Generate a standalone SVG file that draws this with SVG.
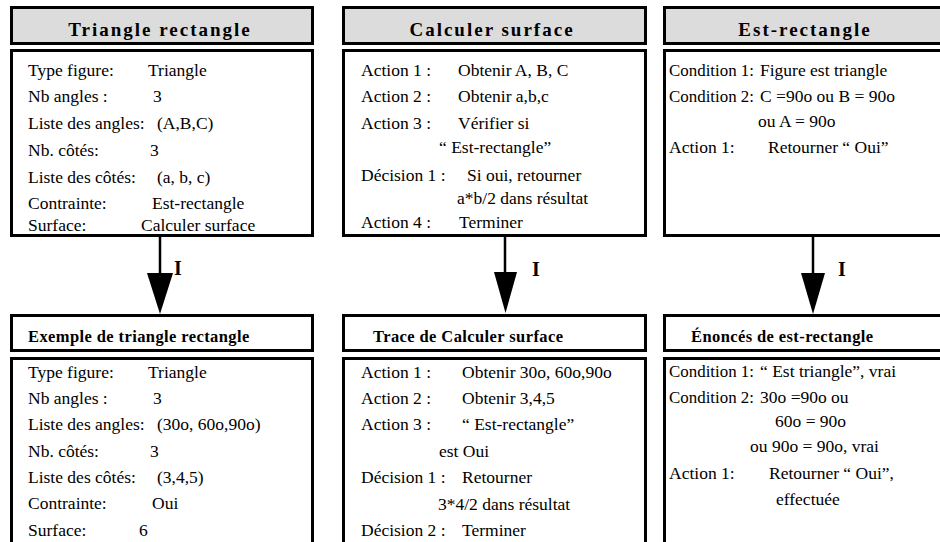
<svg xmlns="http://www.w3.org/2000/svg" width="940" height="542" viewBox="0 0 940 542" font-family="'Liberation Serif', 'DejaVu Serif', Times, serif">
<style>
.bg{fill:#ffffff}
.tbox{fill:#dcdcdc;stroke:#000;stroke-width:3}
.box{fill:#ffffff;stroke:#000;stroke-width:3}
.t{font-size:17.5px;fill:#000}
.h1{font-size:19px;font-weight:bold;letter-spacing:2px;fill:#000;text-anchor:middle}
.h2{font-size:16.5px;font-weight:bold;letter-spacing:0.4px;fill:#000}
.lbl{font-size:20px;font-weight:bold;fill:#000}
.ln{stroke:#000;stroke-width:2.5;fill:none}
.ah{fill:#000}
</style>
<rect class="bg" x="0" y="0" width="940" height="542"/>

<g id="triangle-rectangle">
<rect class="tbox" x="11.5" y="7.5" width="301" height="36"/>
<text class="h1" x="160" y="36">Triangle rectangle</text>
<rect class="box" x="11.5" y="50.5" width="301" height="185"/>
<text class="t" x="28" y="76">Type figure:</text><text class="t" x="148" y="76">Triangle</text>
<text class="t" x="28" y="102">Nb angles :</text><text class="t" x="153" y="102">3</text>
<text class="t" x="28" y="129">Liste des angles:</text><text class="t" x="157" y="129">(A,B,C)</text>
<text class="t" x="28" y="156">Nb. côtés:</text><text class="t" x="150" y="156">3</text>
<text class="t" x="28" y="183">Liste des côtés:</text><text class="t" x="157" y="183">(a, b, c)</text>
<text class="t" x="28" y="209">Contrainte:</text><text class="t" x="152" y="209">Est-rectangle</text>
<text class="t" x="28" y="231">Surface:</text><text class="t" x="141" y="231">Calculer surface</text>
</g>

<g id="calculer-surface">
<rect class="tbox" x="343.5" y="7.5" width="302" height="36"/>
<text class="h1" x="492" y="36">Calculer surface</text>
<rect class="box" x="343.5" y="50.5" width="302" height="185"/>
<text class="t" x="361" y="76">Action 1 :</text><text class="t" x="458" y="76">Obtenir A, B, C</text>
<text class="t" x="361" y="102">Action 2 :</text><text class="t" x="458" y="102">Obtenir a,b,c</text>
<text class="t" x="361" y="129">Action 3 :</text><text class="t" x="458" y="129">Vérifier si</text>
<text class="t" x="439" y="153">“ Est-rectangle”</text>
<text class="t" x="361" y="181">Décision 1 :</text><text class="t" x="467" y="181">Si oui, retourner</text>
<text class="t" x="457" y="204">a*b/2 dans résultat</text>
<text class="t" x="361" y="228">Action 4 :</text><text class="t" x="459" y="228">Terminer</text>
</g>

<g id="est-rectangle">
<rect class="tbox" x="664.5" y="7.5" width="282" height="36"/>
<text class="h1" x="805" y="36">Est-rectangle</text>
<rect class="box" x="664.5" y="50.5" width="282" height="185"/>
<text class="t" x="669" y="76" textLength="85" lengthAdjust="spacingAndGlyphs">Condition 1:</text><text class="t" x="760" y="76">Figure est triangle</text>
<text class="t" x="669" y="102" textLength="85" lengthAdjust="spacingAndGlyphs">Condition 2:</text><text class="t" x="760" y="102">C =90o ou B = 90o</text>
<text class="t" x="758" y="127">ou A = 90o</text>
<text class="t" x="669" y="153">Action 1:</text><text class="t" x="768" y="153">Retourner “ Oui”</text>
</g>

<g id="exemple-triangle">
<rect class="box" x="11.5" y="315.5" width="301" height="35"/>
<text class="h2" x="28" y="342">Exemple de triangle rectangle</text>
<rect class="box" x="11.5" y="358.5" width="301" height="200"/>
<text class="t" x="28" y="378">Type figure:</text><text class="t" x="148" y="378">Triangle</text>
<text class="t" x="28" y="404">Nb angles :</text><text class="t" x="153" y="404">3</text>
<text class="t" x="28" y="430">Liste des angles:</text><text class="t" x="157" y="430">(30o, 60o,90o)</text>
<text class="t" x="28" y="457">Nb. côtés:</text><text class="t" x="150" y="457">3</text>
<text class="t" x="28" y="483">Liste des côtés:</text><text class="t" x="157" y="483">(3,4,5)</text>
<text class="t" x="28" y="509">Contrainte:</text><text class="t" x="152" y="509">Oui</text>
<text class="t" x="28" y="536">Surface:</text><text class="t" x="139" y="536">6</text>
</g>

<g id="trace-calculer">
<rect class="box" x="343.5" y="315.5" width="302" height="35"/>
<text class="h2" x="373" y="342">Trace de Calculer surface</text>
<rect class="box" x="343.5" y="358.5" width="302" height="200"/>
<text class="t" x="361" y="378">Action 1 :</text><text class="t" x="462" y="378">Obtenir 30o, 60o,90o</text>
<text class="t" x="361" y="404">Action 2 :</text><text class="t" x="462" y="404">Obtenir 3,4,5</text>
<text class="t" x="361" y="430">Action 3 :</text><text class="t" x="462" y="430">“ Est-rectangle”</text>
<text class="t" x="439" y="457">est Oui</text>
<text class="t" x="361" y="483">Décision 1 :</text><text class="t" x="462" y="483">Retourner</text>
<text class="t" x="438" y="510">3*4/2 dans résultat</text>
<text class="t" x="361" y="536">Décision 2 :</text><text class="t" x="462" y="536">Terminer</text>
</g>

<g id="enonces-est-rectangle">
<rect class="box" x="664.5" y="315.5" width="282" height="35"/>
<text class="h2" x="691" y="342">Énoncés de est-rectangle</text>
<rect class="box" x="664.5" y="358.5" width="282" height="200"/>
<text class="t" x="669" y="377" textLength="85" lengthAdjust="spacingAndGlyphs">Condition 1:</text><text class="t" x="760" y="377">“ Est triangle”, vrai</text>
<text class="t" x="669" y="403" textLength="85" lengthAdjust="spacingAndGlyphs">Condition 2:</text><text class="t" x="760" y="403">30o =90o ou</text>
<text class="t" x="775" y="427">60o = 90o</text>
<text class="t" x="750" y="452">ou 90o = 90o, vrai</text>
<text class="t" x="669" y="479">Action 1:</text><text class="t" x="769" y="479">Retourner “ Oui”,</text>
<text class="t" x="776" y="505">effectuée</text>
</g>

<g id="connectors">
<line class="ln" x1="160" y1="237" x2="160" y2="276"/>
<polygon class="ah" points="147,273 173,273 160,314"/>
<text class="lbl" x="174" y="275">I</text>
<line class="ln" x1="505" y1="237" x2="505" y2="276"/>
<polygon class="ah" points="494,272 517,272 505.5,313"/>
<text class="lbl" x="532" y="276">I</text>
<line class="ln" x1="813" y1="237" x2="813" y2="276"/>
<polygon class="ah" points="801,273 825,273 813,314"/>
<text class="lbl" x="838" y="276">I</text>
</g>
</svg>
